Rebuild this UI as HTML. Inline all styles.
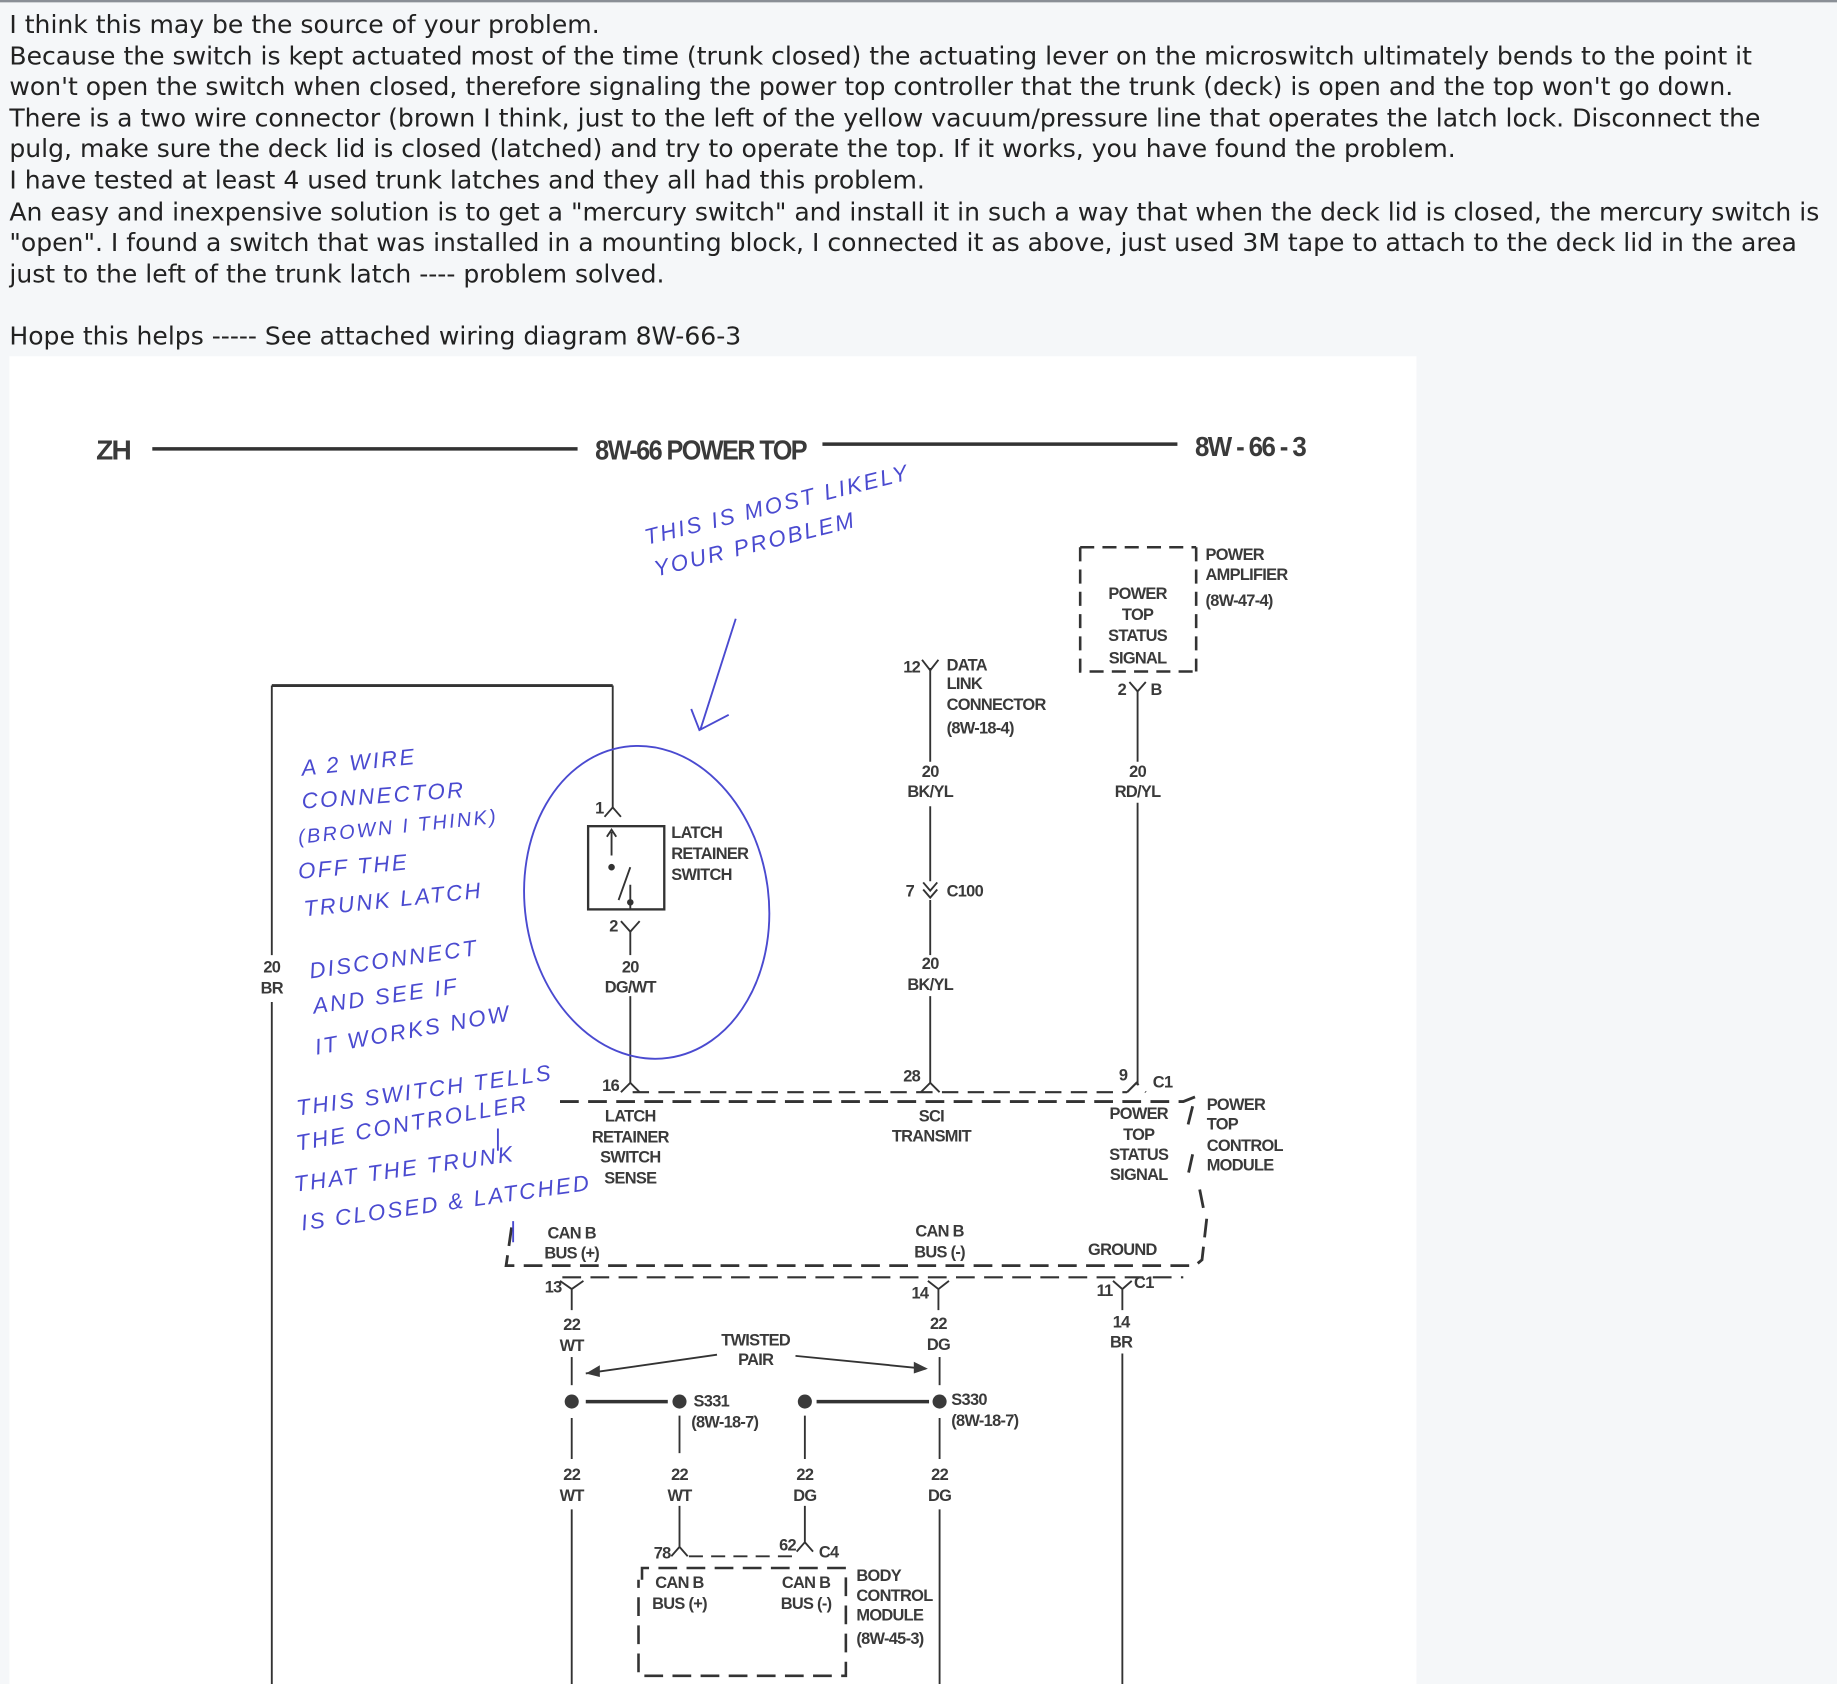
<!DOCTYPE html>
<html><head><meta charset="utf-8">
<style>
html,body{margin:0;padding:0;background:#f5f7f9;width:1837px;height:1684px;overflow:hidden}
#w{position:absolute;left:0;top:0;width:1568px;height:1437px;transform:scale(1.17156,1.17189);transform-origin:0 0}
.bar{position:absolute;left:0;top:0;width:1568px;height:1.5px;background:#8a8f96}
.t{position:absolute;left:8px;top:9px;font-family:"DejaVu Sans","Liberation Sans",sans-serif;font-size:21.4px;line-height:26.6px;color:#222;white-space:nowrap}
.img{position:absolute;left:8px;top:304px;width:1201px;height:1133px;background:#fff}
svg{position:absolute;left:0;top:0}
svg text{font-family:"Liberation Sans",sans-serif;fill:#3a3a3a;font-weight:bold;letter-spacing:-0.6px}
.s{font-size:14px}
.hd{letter-spacing:-1.5px}
svg .h text{font-family:"Liberation Sans",sans-serif;font-style:italic;fill:#4a4ad0;font-weight:normal;letter-spacing:2px}
</style></head><body><div id="w">
<div class="bar"></div>
<div class="t">I think this may be the source of your problem.<br>Because the switch is kept actuated most of the time (trunk closed) the actuating lever on the microswitch ultimately bends to the point it<br>won't open the switch when closed, therefore signaling the power top controller that the trunk (deck) is open and the top won't go down.<br>There is a two wire connector (brown I think, just to the left of the yellow vacuum/pressure line that operates the latch lock. Disconnect the<br>pulg, make sure the deck lid is closed (latched) and try to operate the top. If it works, you have found the problem.<br>I have tested at least 4 used trunk latches and they all had this problem.<br>An easy and inexpensive solution is to get a "mercury switch" and install it in such a way that when the deck lid is closed, the mercury switch is<br>"open". I found a switch that was installed in a mounting block, I connected it as above, just used 3M tape to attach to the deck lid in the area<br>just to the left of the trunk latch ---- problem solved.<br><br>Hope this helps ----- See attached wiring diagram 8W-66-3</div>
<div class="img"></div>
<svg width="1568" height="1437" viewBox="0 0 1568 1437">
<g stroke="#333" fill="none" stroke-width="1.6">
<line x1="130" y1="383" x2="493" y2="383" stroke-width="3"/>
<line x1="702" y1="379" x2="1005" y2="379" stroke-width="3"/>
<path d="M922 467 H1021 M1021 467 V573 M922 467 V573 H1021" stroke-dasharray="12 7" stroke-width="2.2"/>
<path d="M964 582 L971 590 L978 582"/>
<line x1="971" y1="590" x2="971" y2="650"/><line x1="971" y1="685" x2="971" y2="926"/>
<line x1="794" y1="570" x2="794" y2="650"/><path d="M787 563 L794 572 L801 563"/>
<line x1="794" y1="688" x2="794" y2="752"/>
<path d="M788 753 L794 760 L800 753 M788 759 L794 766 L800 759"/>
<line x1="794" y1="768" x2="794" y2="815"/><line x1="794" y1="850" x2="794" y2="925"/>
<path d="M786 932 L794 924 L802 932"/>
<line x1="232" y1="585" x2="523" y2="585" stroke-width="2.4"/>
<line x1="232" y1="585" x2="232" y2="815"/><line x1="232" y1="855" x2="232" y2="1437"/>
<line x1="523" y1="585" x2="523" y2="690"/><path d="M516 697 L523 689 L530 697"/>
<rect x="502" y="705" width="65" height="71" stroke-width="2"/>
<path d="M522 710 V730 M518 714 L522 708 L526 714 M538 740 L528 768 M538 755 V776"/>
<circle cx="522" cy="740" r="2" fill="#333"/><circle cx="538" cy="770" r="2" fill="#333"/>
<path d="M530 786 L538 795 L546 786"/><line x1="538" y1="795" x2="538" y2="815"/>
<line x1="538" y1="850" x2="538" y2="925"/><path d="M530 932 L538 924 L546 932"/>
<path d="M540 932 H962 M962 932 L970 924 L978 932" stroke-dasharray="14 8" stroke-width="1.8"/>
<path d="M478 940 H1010 L1020 936 M1018 944 L1014 960 M1018 985 L1014 1003 M1024 1015 L1028 1035 M1030 1040 L1026 1075 L1020 1080 H432 L437 1045" stroke-dasharray="16 8" stroke-width="2.4"/>
<path d="M480 1090 H1010" stroke-dasharray="16 8" stroke-width="1.8"/>
<path d="M478 1093 L488 1100 L498 1093 M488 1100 V1118"/>
<path d="M792 1093 L801 1100 L810 1093 M801 1100 V1118"/>
<path d="M950 1093 L958 1100 L966 1093 M958 1100 V1118"/>
<line x1="958" y1="1155" x2="958" y2="1437"/>
<line x1="488" y1="1158" x2="488" y2="1182"/><line x1="802" y1="1158" x2="802" y2="1182"/>
<path d="M612 1156 L500 1172 M679 1157 L790 1168"/>
<line x1="500" y1="1196" x2="570" y2="1196" stroke-width="3"/>
<line x1="697" y1="1196" x2="793" y2="1196" stroke-width="3"/>
<line x1="488" y1="1210" x2="488" y2="1245"/><line x1="580" y1="1208" x2="580" y2="1240"/>
<line x1="687" y1="1208" x2="687" y2="1245"/><line x1="802" y1="1210" x2="802" y2="1245"/>
<line x1="488" y1="1288" x2="488" y2="1437"/><line x1="802" y1="1288" x2="802" y2="1437"/>
<path d="M580 1285 V1320 L573 1328 M580 1320 L587 1328"/>
<path d="M687 1285 V1316 L680 1324 M687 1316 L694 1324"/>
<path d="M588 1328 H680" stroke-dasharray="12 7"/>
<path d="M548 1348 V1338 H722 V1430 H545 V1348" stroke-dasharray="16 8" stroke-width="2.2"/>
</g>
<g fill="#3a3a3a">
<polygon points="500,1172 512,1165 512,1175"/><polygon points="792,1168 780,1162 780,1172"/>
<circle cx="488" cy="1196" r="6"/><circle cx="580" cy="1196" r="6"/><circle cx="687" cy="1196" r="6"/><circle cx="802" cy="1196" r="6"/>
</g>
<text x="82" y="392" font-size="24" class="hd">ZH</text>
<text x="508" y="392" font-size="24" class="hd" textLength="180" lengthAdjust="spacingAndGlyphs">8W-66 POWER TOP</text>
<text x="1020" y="389" font-size="24" class="hd" textLength="94" lengthAdjust="spacingAndGlyphs">8W - 66 - 3</text>
<g class="s" text-anchor="middle">
<text x="971" y="511">POWER</text><text x="971" y="529">TOP</text><text x="971" y="547">STATUS</text><text x="971" y="566">SIGNAL</text>
<text x="794" y="663">20</text><text x="794" y="680">BK/YL</text>
<text x="971" y="663">20</text><text x="971" y="680">RD/YL</text>
<text x="794" y="827">20</text><text x="794" y="845">BK/YL</text>
<text x="232" y="830">20</text><text x="232" y="848">BR</text>
<text x="538" y="830">20</text><text x="538" y="847">DG/WT</text>
<text x="538" y="957">LATCH</text><text x="538" y="975">RETAINER</text><text x="538" y="992">SWITCH</text><text x="538" y="1010">SENSE</text>
<text x="795" y="957">SCI</text><text x="795" y="974">TRANSMIT</text>
<text x="972" y="955">POWER</text><text x="972" y="973">TOP</text><text x="972" y="990">STATUS</text><text x="972" y="1007">SIGNAL</text>
<text x="488" y="1057">CAN B</text><text x="488" y="1074">BUS (+)</text>
<text x="802" y="1055">CAN B</text><text x="802" y="1073">BUS (-)</text>
<text x="958" y="1071">GROUND</text>
<text x="488" y="1135">22</text><text x="488" y="1153">WT</text>
<text x="801" y="1134">22</text><text x="801" y="1152">DG</text>
<text x="957" y="1133">14</text><text x="957" y="1150">BR</text>
<text x="645" y="1148">TWISTED</text><text x="645" y="1165">PAIR</text>
<text x="488" y="1263">22</text><text x="488" y="1281">WT</text>
<text x="580" y="1263">22</text><text x="580" y="1281">WT</text>
<text x="687" y="1263">22</text><text x="687" y="1281">DG</text>
<text x="802" y="1263">22</text><text x="802" y="1281">DG</text>
<text x="580" y="1355">CAN B</text><text x="580" y="1373">BUS (+)</text>
<text x="688" y="1355">CAN B</text><text x="688" y="1373">BUS (-)</text>
</g>
<g class="s">
<text x="1029" y="478">POWER</text><text x="1029" y="495">AMPLIFIER</text><text x="1029" y="517" font-weight="normal">(8W-47-4)</text>
<text x="954" y="593">2</text><text x="982" y="593">B</text>
<text x="771" y="574">12</text><text x="808" y="572">DATA</text><text x="808" y="588">LINK</text><text x="808" y="606">CONNECTOR</text><text x="808" y="626" font-weight="normal">(8W-18-4)</text>
<text x="508" y="694">1</text>
<text x="573" y="715">LATCH</text><text x="573" y="733">RETAINER</text><text x="573" y="751">SWITCH</text>
<text x="520" y="795">2</text>
<text x="773" y="765">7</text><text x="808" y="765">C100</text>
<text x="514" y="931">16</text><text x="771" y="923">28</text><text x="955" y="922">9</text><text x="984" y="928">C1</text>
<text x="1030" y="947">POWER</text><text x="1030" y="964">TOP</text><text x="1030" y="982">CONTROL</text><text x="1030" y="999">MODULE</text>
<text x="465" y="1103">13</text><text x="778" y="1108">14</text><text x="936" y="1106">11</text><text x="968" y="1099">C1</text>
<text x="592" y="1200">S331</text><text x="590" y="1218" font-weight="normal">(8W-18-7)</text>
<text x="812" y="1199">S330</text><text x="812" y="1217" font-weight="normal">(8W-18-7)</text>
<text x="558" y="1330">78</text><text x="665" y="1323">62</text><text x="699" y="1329">C4</text>
<text x="731" y="1349">BODY</text><text x="731" y="1366">CONTROL</text><text x="731" y="1383">MODULE</text><text x="731" y="1403" font-weight="normal">(8W-45-3)</text>
</g>
<g stroke="#4a4ad0" fill="none" stroke-width="1.6">
<ellipse cx="552" cy="770" rx="104" ry="134" transform="rotate(-8 552 770)"/>
<path d="M628 528 L598 622 M590 605 L597 623 L622 610"/>
<path d="M438 1042 V1060 M425 963 V982"/>
</g>
<g class="h" font-size="19">
<text x="552" y="465" transform="rotate(-14 552 465)">THIS IS MOST LIKELY</text>
<text x="560" y="492" transform="rotate(-14 560 492)">YOUR PROBLEM</text>
<text x="258" y="662" transform="rotate(-6 258 662)">A 2 WIRE</text>
<text x="258" y="690" transform="rotate(-4 258 690)">CONNECTOR</text>
<text x="255" y="720" transform="rotate(-6 255 720)" font-size="17">(BROWN I THINK)</text>
<text x="255" y="750" transform="rotate(-5 255 750)">OFF THE</text>
<text x="260" y="782" transform="rotate(-6 260 782)">TRUNK LATCH</text>
<text x="265" y="835" transform="rotate(-8 265 835)">DISCONNECT</text>
<text x="268" y="865" transform="rotate(-8 268 865)">AND SEE IF</text>
<text x="270" y="900" transform="rotate(-10 270 900)">IT WORKS NOW</text>
<text x="254" y="952" transform="rotate(-8 254 952)">THIS SWITCH TELLS</text>
<text x="254" y="982" transform="rotate(-10 254 982)">THE CONTROLLER</text>
<text x="252" y="1017" transform="rotate(-8 252 1017)">THAT THE TRUNK</text>
<text x="258" y="1050" transform="rotate(-8 258 1050)">IS CLOSED &amp; LATCHED</text>
</g>
</svg>
</div></body></html>
